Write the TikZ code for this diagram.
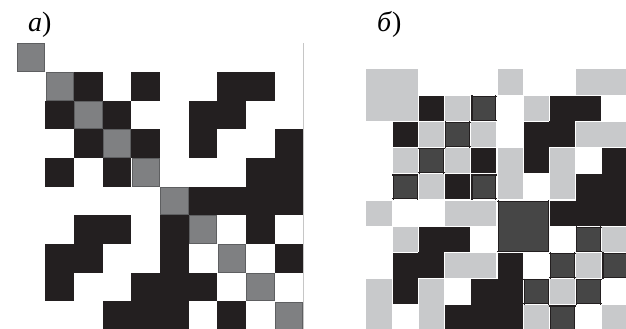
\documentclass[tikz,border=0pt]{standalone}
\usepackage{fontspec}
\setmainfont{Liberation Serif}
\definecolor{cellblack}{HTML}{231F20}
\definecolor{cellgray}{HTML}{7F8082}
\definecolor{celledge}{HTML}{5E5F61}
\definecolor{celllight}{HTML}{C8C9CB}
\definecolor{celldark}{HTML}{464646}

% matrix a): 0 white, 1 diagonal gray, 3 black
\def\gridA{{1,0,0,0,0,0,0,0,0,0,
            0,1,3,0,3,0,0,3,3,0,
            0,3,1,3,0,0,3,3,0,0,
            0,0,3,1,3,0,3,0,0,3,
            0,3,0,3,1,0,0,0,3,3,
            0,0,0,0,0,1,3,3,3,3,
            0,0,3,3,0,3,1,0,3,0,
            0,3,3,0,0,3,0,1,0,3,
            0,3,0,0,3,3,3,0,1,0,
            0,0,0,3,3,3,0,3,0,1}}
% matrix b): 0 white, 1 light gray, 2 dark gray, 3 black
\def\gridB{{1,1,0,0,0,1,0,0,1,1,
            1,1,3,1,2,0,1,3,3,0,
            0,3,1,2,1,0,3,3,1,1,
            0,1,2,1,3,1,3,1,0,3,
            0,2,1,3,2,1,0,1,3,3,
            1,0,0,1,1,2,2,3,3,3,
            0,1,3,3,0,2,2,0,2,1,
            0,3,3,1,1,3,0,2,1,2,
            1,3,1,0,3,3,2,1,2,0,
            1,0,1,3,3,3,1,2,0,1}}
\def\colB{{"white","celllight","celldark","cellblack"}}

\begin{document}
\begin{tikzpicture}[x=1pt, y=-1pt,
  panel/.style={font=\fontsize{28}{28}\selectfont, anchor=base west, inner sep=0pt},
  gapline/.style={white, line width=1.3pt},
  rimline/.style={cellblack, line width=1.2pt}]
  \useasboundingbox (0,0) rectangle (626,329);

  % Labels
  \node[panel] (labA) at (28,32) {\textit{а})};
  \node[panel] (labB) at (377,32) {\textit{б})};

  % Grid a)
  \begin{scope}[shift={(16.7,43.3)}, x=28.67pt, y=-28.67pt]
    \foreach \r in {0,...,9}{
      \foreach \c in {0,...,9}{
        \pgfmathtruncatemacro\v{\gridA[\r*10+\c]}
        \ifnum\v=3 \fill[cellblack] (\c,\r) rectangle (\c+1,\r+1);\fi
        \ifnum\v=1 \filldraw[fill=cellgray, draw=celledge, line width=0.8pt]
          (\c+0.02,\r+0.02) rectangle (\c+0.98,\r+0.98);\fi
      }
    }
    \draw[gray!45, line width=0.8pt] (10,0) -- (10,10);
  \end{scope}

  % Grid b)
  \begin{scope}[shift={(366,69)}, x=26.2pt, y=-26.2pt]
    \foreach \r in {0,...,9}{
      \foreach \c in {0,...,9}{
        \pgfmathtruncatemacro\v{\gridB[\r*10+\c]}
        \pgfmathparse{\colB[\v]}\edef\col{\pgfmathresult}
        \fill[\col] (\c,\r) rectangle (\c+1,\r+1);
      }
    }
    % thin white gaps between cells of different tone
    \foreach \r in {0,...,9}{
      \foreach \c in {0,...,8}{
        \pgfmathtruncatemacro\va{\gridB[\r*10+\c]}
        \pgfmathtruncatemacro\vb{\gridB[\r*10+\c+1]}
        \ifnum\va=\vb\else \draw[gapline] (\c+1,\r) -- (\c+1,\r+1);\fi
        \pgfmathtruncatemacro\va{\gridB[\c*10+\r]}
        \pgfmathtruncatemacro\vb{\gridB[\c*10+10+\r]}
        \ifnum\va=\vb\else \draw[gapline] (\r,\c+1) -- (\r+1,\c+1);\fi
      }
    }
    % black rims round the dark gray cells
    \foreach \r in {0,...,9}{
      \foreach \c in {0,...,8}{
        \pgfmathtruncatemacro\va{\gridB[\r*10+\c]}
        \pgfmathtruncatemacro\vb{\gridB[\r*10+\c+1]}
        \ifnum\va=\vb\else
          \ifnum\va=2 \draw[rimline] (\c+0.955,\r) -- (\c+0.955,\r+1);\fi
          \ifnum\vb=2 \draw[rimline] (\c+1.045,\r) -- (\c+1.045,\r+1);\fi
        \fi
        \pgfmathtruncatemacro\va{\gridB[\c*10+\r]}
        \pgfmathtruncatemacro\vb{\gridB[\c*10+10+\r]}
        \ifnum\va=\vb\else
          \ifnum\va=2 \draw[rimline] (\r,\c+0.955) -- (\r+1,\c+0.955);\fi
          \ifnum\vb=2 \draw[rimline] (\r,\c+1.045) -- (\r+1,\c+1.045);\fi
        \fi
      }
    }
  \end{scope}
\end{tikzpicture}
\end{document}
